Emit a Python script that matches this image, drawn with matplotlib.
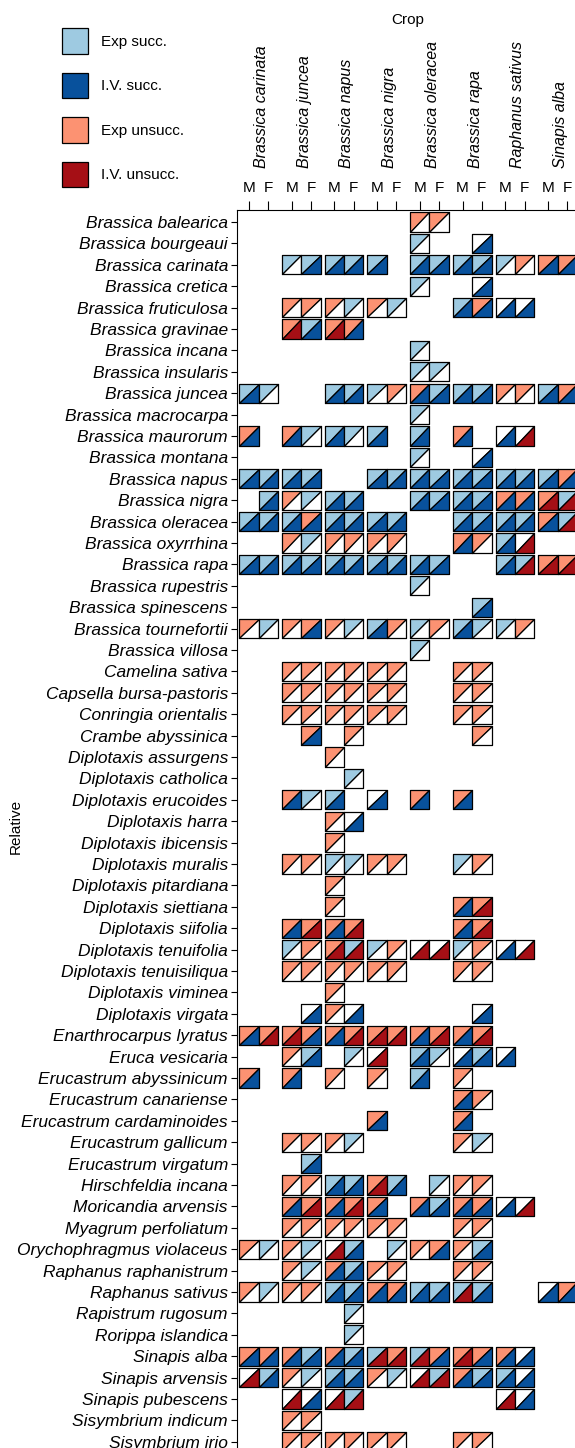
import matplotlib
matplotlib.use("Agg")
import matplotlib.pyplot as plt
from matplotlib.collections import PolyCollection
from matplotlib.patches import Patch
from matplotlib.transforms import blended_transform_factory

plt.rcParams['font.family'] = ['Liberation Sans', 'DejaVu Sans']

crops = ["Brassica carinata", "Brassica juncea", "Brassica napus", "Brassica nigra",
         "Brassica oleracea", "Brassica rapa", "Raphanus sativus", "Sinapis alba"]
parent_roles = ["M", "F"]

relatives = [
    "Brassica balearica", "Brassica bourgeaui", "Brassica carinata", "Brassica cretica",
    "Brassica fruticulosa", "Brassica gravinae", "Brassica incana", "Brassica insularis",
    "Brassica juncea", "Brassica macrocarpa", "Brassica maurorum", "Brassica montana",
    "Brassica napus", "Brassica nigra", "Brassica oleracea", "Brassica oxyrrhina",
    "Brassica rapa", "Brassica rupestris", "Brassica spinescens", "Brassica tournefortii",
    "Brassica villosa", "Camelina sativa", "Capsella bursa-pastoris", "Conringia orientalis",
    "Crambe abyssinica", "Diplotaxis assurgens", "Diplotaxis catholica", "Diplotaxis erucoides",
    "Diplotaxis harra", "Diplotaxis ibicensis", "Diplotaxis muralis", "Diplotaxis pitardiana",
    "Diplotaxis siettiana", "Diplotaxis siifolia", "Diplotaxis tenuifolia", "Diplotaxis tenuisiliqua",
    "Diplotaxis viminea", "Diplotaxis virgata", "Enarthrocarpus lyratus", "Eruca vesicaria",
    "Erucastrum abyssinicum", "Erucastrum canariense", "Erucastrum cardaminoides", "Erucastrum gallicum",
    "Erucastrum virgatum", "Hirschfeldia incana", "Moricandia arvensis", "Myagrum perfoliatum",
    "Orychophragmus violaceus", "Raphanus raphanistrum", "Raphanus sativus", "Rapistrum rugosum",
    "Rorippa islandica", "Sinapis alba", "Sinapis arvensis", "Sinapis pubescens",
    "Sisymbrium indicum", "Sisymbrium irio",
]

# One token per crop x parent column (carinata M, carinata F, juncea M, ...).
# First letter: experimental hybridisation (upper-left triangle)
#   b = successful, o = unsuccessful, w = not reported
# Second letter: in vitro hybridisation (lower-right triangle)
#   B = successful, R = unsuccessful, w = not reported
# ".." = no cross recorded
outcomes = [
    ".. .. .. .. .. .. .. .. ow ow .. .. .. .. .. ..",
    ".. .. .. .. .. .. .. .. bw .. .. wB .. .. .. ..",
    ".. .. bw bB bB bB bB .. bB bB bB bB bw ow oB oB",
    ".. .. .. .. .. .. .. .. bw .. .. wB .. .. .. ..",
    ".. .. ow ow ow bw ow bw .. .. bB oB wB wB .. ..",
    ".. .. oR bB oR oB .. .. .. .. .. .. .. .. .. ..",
    ".. .. .. .. .. .. .. .. bw .. .. .. .. .. .. ..",
    ".. .. .. .. .. .. .. .. bw bw .. .. .. .. .. ..",
    "bB bw .. .. bB bB bw ow oB bB bB bB ow ow bB oB",
    ".. .. .. .. .. .. .. .. bw .. .. .. .. .. .. ..",
    "oB .. oB bw bB bw bB .. bB .. oB .. wB wR .. ..",
    ".. .. .. .. .. .. .. .. bw .. .. wB .. .. .. ..",
    "bB bB bB bB .. .. bB bB bB bB bB bB bB bB bB oB",
    ".. bB ow bw bB bB .. .. bB bB bB bB oB oB oR bR",
    "bB bB bB oB bB bB bB bB .. .. bB bB bB bB oB bR",
    ".. .. ow bw ow ow ow ow .. .. oB ow bB wR .. ..",
    "bB bB bB bB bB bB bB bB bB bB .. .. bB bR oR oR",
    ".. .. .. .. .. .. .. .. bw .. .. .. .. .. .. ..",
    ".. .. .. .. .. .. .. .. .. .. .. bB .. .. .. ..",
    "ow bw ow oB ow bw bB ow bw ow bB bw bw ow .. ..",
    ".. .. .. .. .. .. .. .. bw .. .. .. .. .. .. ..",
    ".. .. ow ow ow ow ow ow .. .. ow ow .. .. .. ..",
    ".. .. ow ow ow ow ow ow .. .. ow ow .. .. .. ..",
    ".. .. ow ow ow ow ow ow .. .. ow ow .. .. .. ..",
    ".. .. .. oB .. ow .. .. .. .. .. ow .. .. .. ..",
    ".. .. .. .. ow .. .. .. .. .. .. .. .. .. .. ..",
    ".. .. .. .. .. bw .. .. .. .. .. .. .. .. .. ..",
    ".. .. oB bw bB .. wB .. oB .. oB .. .. .. .. ..",
    ".. .. .. .. ow wB .. .. .. .. .. .. .. .. .. ..",
    ".. .. .. .. ow .. .. .. .. .. .. .. .. .. .. ..",
    ".. .. ow ow bw bw ow ow .. .. bw ow .. .. .. ..",
    ".. .. .. .. ow .. .. .. .. .. .. .. .. .. .. ..",
    ".. .. .. .. ow .. .. .. .. .. oB oR .. .. .. ..",
    ".. .. oB oR oB oR .. .. .. .. oB oR .. .. .. ..",
    ".. .. bw ow oR bR bw ow wR wR bw ow wB wR .. ..",
    ".. .. ow ow ow ow ow ow .. .. ow ow .. .. .. ..",
    ".. .. .. .. ow .. .. .. .. .. .. .. .. .. .. ..",
    ".. .. .. wB ow wB .. .. .. .. .. wB .. .. .. ..",
    "oB oR oR oB oB oR oR oR oB oR oB oR .. .. .. ..",
    ".. .. ow bB .. bw wR .. bB bw wB bB wB .. .. ..",
    "oB .. oB .. ow .. ow .. bB .. ow .. .. .. .. ..",
    ".. .. .. .. .. .. .. .. .. .. oB ow .. .. .. ..",
    ".. .. .. .. .. .. oB .. .. .. oB .. .. .. .. ..",
    ".. .. ow ow ow bw .. .. .. .. ow bw .. .. .. ..",
    ".. .. .. bB .. .. .. .. .. .. .. .. .. .. .. ..",
    ".. .. ow ow bB bB oR bB .. bw ow ow .. .. .. ..",
    ".. .. oB oR oB oR oB .. oB bB oB oB wB wR .. ..",
    ".. .. ow ow ow ow ow ow .. .. ow ow .. .. .. ..",
    "ow bw ow bw wR bB .. bw ow oB ow bB .. .. .. ..",
    ".. .. ow bw oB bB ow ow .. .. ow ow .. .. .. ..",
    "ow bw ow ow bB bB oB oB bB bB bR bB .. .. wB oB",
    ".. .. .. .. .. bw .. .. .. .. .. .. .. .. .. ..",
    ".. .. .. .. .. bw .. .. .. .. .. .. .. .. .. ..",
    "oB oB oB bB oB bB bR oR bR oB oR oB oB wB .. ..",
    "wR bB ow bw bB bB ow bw wR bR oB bB bB wB .. ..",
    ".. .. wR wB wR bR .. .. .. .. .. .. wR wB .. ..",
    ".. .. ow ow .. .. .. .. .. .. .. .. .. .. .. ..",
    ".. .. ow ow ow ow ow ow .. .. ow ow .. .. .. ..",
]

legend_labels = ["Exp succ.", "I.V. succ.", "Exp unsucc.", "I.V. unsucc."]
palette = {"b": "#9ecae1", "B": "#08519c", "o": "#fc9272", "R": "#a50f15", "w": "white"}

# Layout in data units: cells are 1 wide, crops step by CROP_STEP, rows step by 1
CROP_STEP = 2.213
CELL_W = 1.0
CELL_H = 0.902

W, H = 575, 1448
fig = plt.figure(figsize=(W / 100, H / 100), dpi=100)
ax = fig.add_axes([237 / W, 1 - 1460 / H, (590 - 237) / W, (1460 - 210) / H])

col_x = [c * CROP_STEP + s * CELL_W for c in range(len(crops)) for s in range(len(parent_roles))]

polys, colors = [], []
for r, row in enumerate(outcomes):
    for k, tok in enumerate(row.split()):
        if tok == "..":
            continue
        x0, x1 = col_x[k] - CELL_W / 2, col_x[k] + CELL_W / 2
        y_top, y_bot = r - CELL_H / 2, r + CELL_H / 2
        # upper-left triangle (experimental), lower-right triangle (in vitro)
        polys.append([(x0, y_bot), (x0, y_top), (x1, y_top)])
        colors.append(palette[tok[0]])
        polys.append([(x0, y_bot), (x1, y_bot), (x1, y_top)])
        colors.append(palette[tok[1]])

ax.add_collection(PolyCollection(polys, facecolors=colors, edgecolors="black", linewidths=0.9))

ax.set_xlim(-0.622, 17.668)
ax.set_ylim(57.85, -0.561)

ax.xaxis.set_ticks_position("top")
ax.set_xticks(col_x)
ax.set_xticklabels(parent_roles * len(crops))
ax.tick_params(axis="x", length=6.5, width=0.8, pad=4.5, labelsize=11)

ax.set_yticks(range(len(relatives)))
ax.set_yticklabels(relatives, fontstyle="italic")
ax.tick_params(axis="y", length=4, width=0.8, pad=2.5, labelsize=12.5)

for side in ("right", "bottom"):
    ax.spines[side].set_visible(False)
for side in ("top", "left"):
    ax.spines[side].set_linewidth(0.8)

trans = blended_transform_factory(ax.transData, fig.transFigure)
for c, name in enumerate(crops):
    ax.text(c * CROP_STEP + CELL_W / 2 + 0.15, 1 - 168 / H, name, transform=trans,
            rotation=90, ha="center", va="bottom", fontstyle="italic", fontsize=11.5)

fig.text(408 / W, 1 - 20 / H, "Crop", ha="center", va="center", fontsize=11)
fig.text(16 / W, 1 - 826 / H, "Relative", rotation=90, ha="center", va="center", fontsize=11)

handles = [Patch(facecolor=palette[k], edgecolor="black", linewidth=0.9) for k in "bBoR"]
fig.legend(handles=handles, labels=legend_labels, loc="upper left",
           bbox_to_anchor=(61.7 / W, 1 - 28.3 / H), frameon=False, fontsize=11,
           handlelength=1.70, handleheight=2.19, handletextpad=0.9,
           labelspacing=1.24, borderpad=0, borderaxespad=0)

fig.savefig("out.png", dpi=100)
